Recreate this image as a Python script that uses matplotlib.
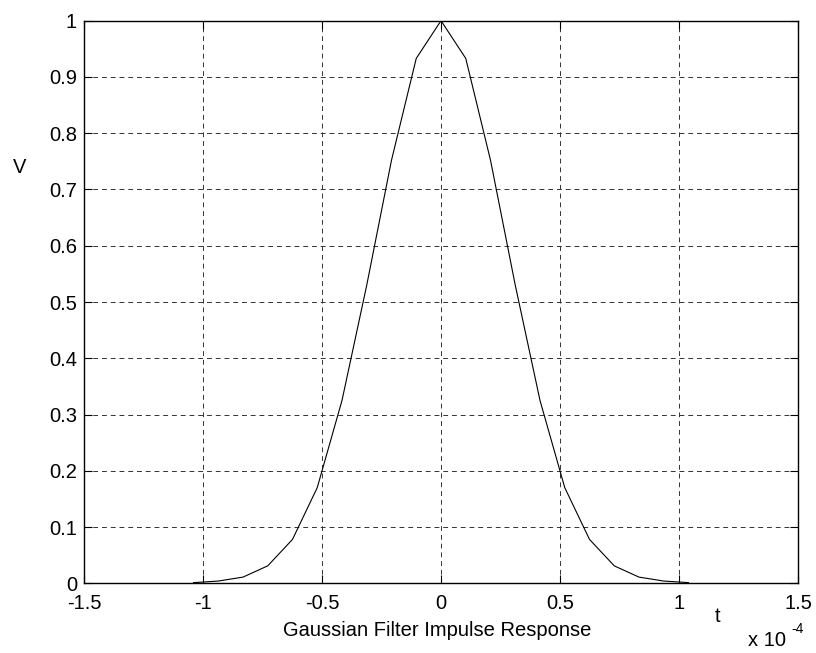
import matplotlib
matplotlib.use("Agg")
import matplotlib.pyplot as plt

plt.rcParams['font.family'] = ['Liberation Sans', 'DejaVu Sans']

# time in units of 1e-4 s
t = [-1.04, -0.936, -0.832, -0.728, -0.624, -0.52, -0.416, -0.312, -0.208, -0.104, 0.0,
     0.104, 0.208, 0.312, 0.416, 0.52, 0.624, 0.728, 0.832, 0.936, 1.04]
v = [0.0012, 0.004, 0.011, 0.031, 0.078, 0.17, 0.325, 0.53, 0.752, 0.933, 1.0,
     0.933, 0.752, 0.53, 0.325, 0.17, 0.078, 0.031, 0.011, 0.004, 0.0012]

xticks = [-1.5, -1, -0.5, 0, 0.5, 1, 1.5]
xticklabels = ['-1.5', '-1', '-0.5', '0', '0.5', '1', '1.5']
yticks = [0, 0.1, 0.2, 0.3, 0.4, 0.5, 0.6, 0.7, 0.8, 0.9, 1]
yticklabels = ['0', '0.1', '0.2', '0.3', '0.4', '0.5', '0.6', '0.7', '0.8', '0.9', '1']

fig = plt.figure(figsize=(8.16, 6.53), dpi=100)
ax = fig.add_axes([84/816, 1-583.3/653, (798-84)/816, (583.3-20.7)/653])

ax.plot(t, v, color='black', lw=0.8)
ax.set_xlim(-1.5, 1.5)
ax.set_ylim(0, 1)
ax.set_xticks(xticks)
ax.set_xticklabels(xticklabels)
ax.set_yticks(yticks)
ax.set_yticklabels(yticklabels)
ax.tick_params(direction='in', length=5.8, width=0.8, labelsize=14.5,
               top=True, right=True)
ax.tick_params(axis='x', pad=8)
ax.tick_params(axis='y', pad=5)
ax.grid(True, color='#333333', linestyle=(0, (5, 4)), linewidth=0.7)
for s in ax.spines.values():
    s.set_linewidth(1.0)

fig.text(20/816, 1-167/653, 'V', fontsize=14.5, ha='center', va='center')
fig.text(718/816, 1-617/653, 't', fontsize=14.5, ha='center', va='center')
fig.text(437.5/816, 1-631/653, 'Gaussian Filter Impulse Response', fontsize=14.5,
         ha='center', va='center')
fig.text(767/816, 1-641/653, 'x 10', fontsize=14.5, ha='center', va='center')
fig.text(791/816, 1-629/653, '-4', fontsize=10, ha='left', va='center')

fig.savefig('out.png', dpi=100)
